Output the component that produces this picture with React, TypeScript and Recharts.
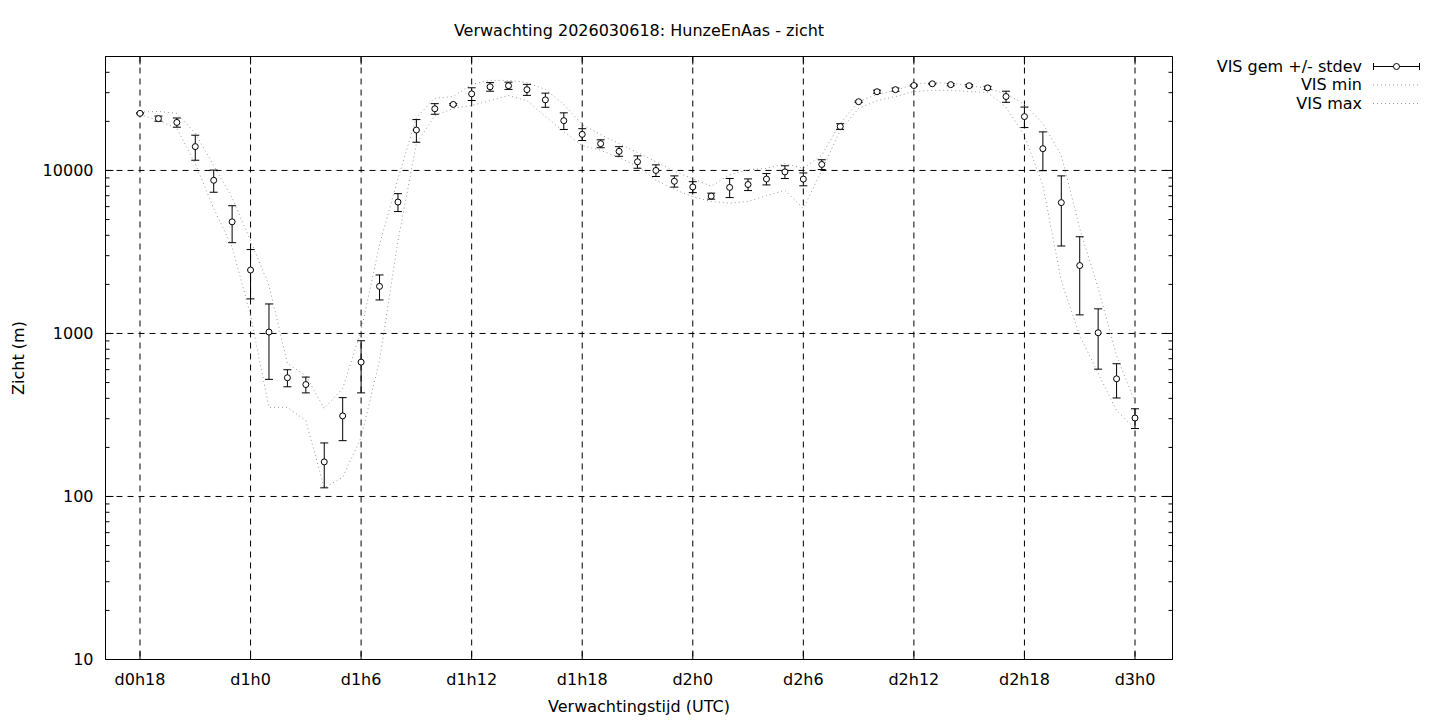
import React from "react";
import {
  CartesianGrid,
  ComposedChart,
  ErrorBar,
  Legend,
  Line,
  XAxis,
  YAxis,
} from "recharts";

// forecast hours (d0h18 .. d3h0)
const HOURS = [
  18, 19, 20, 21, 22, 23, 24, 25, 26, 27, 28, 29, 30, 31, 32, 33, 34, 35, 36,
  37, 38, 39, 40, 41, 42, 43, 44, 45, 46, 47, 48, 49, 50, 51, 52, 53, 54, 55,
  56, 57, 58, 59, 60, 61, 62, 63, 64, 65, 66, 67, 68, 69, 70, 71, 72,
];

// VIS gem (m)
const VIS_MEAN = [
  22400, 20800, 19700, 14000, 8700, 4840, 2450, 1020, 535, 486, 163, 312, 667,
  1945, 6400, 17700, 23900, 25400, 29500, 32600, 33100, 31300, 27100, 20200,
  16650, 14600, 13100, 11300, 10000, 8580, 7920, 6960, 7870, 8200, 8860, 9800,
  8850, 10880, 18600, 26400, 30400, 31300, 33200, 34000, 33600, 33100, 32100,
  28400, 21400, 13600, 6350, 2610, 1010, 527, 303,
];

// stdev (m)
const VIS_SD = [
  150, 750, 1280, 2450, 1350, 1235, 820, 497, 64, 54, 50, 92, 235, 340, 805,
  2810, 1785, 300, 2640, 1980, 1700, 2430, 2700, 2365, 1385, 820, 890, 985, 820,
  680, 610, 295, 1055, 675, 710, 880, 800, 750, 745, 300, 650, 700, 300, 200,
  500, 500, 700, 2220, 3075, 3635, 2910, 1310, 406, 125, 42,
];

const VIS_MIN = [
  22000, 20300, 18100, 11000, 5850, 3400, 1290, 352, 352, 292, 113, 131, 230,
  683, 3700, 14600, 21700, 24000, 25000, 26800, 28800, 26800, 21400, 17300,
  14200, 13300, 12000, 10600, 8700, 7650, 6900, 6450, 6300, 6450, 7000, 7550,
  5850, 10000, 17600, 24000, 26800, 28400, 30500, 31000, 31000, 30500, 30100,
  24400, 16400, 8100, 2100, 970, 570, 337, 261,
];

const VIS_MAX = [
  22800, 23000, 22400, 16900, 10700, 6800, 3700, 1970, 655, 550, 347, 460, 1040,
  3500, 8900, 21100, 27700, 28400, 33700, 35700, 35700, 34600, 31400, 25400,
  19100, 16600, 14600, 12900, 11300, 9900, 8900, 8000, 9400, 10100, 10300,
  11000, 10300, 12400, 19400, 26500, 29200, 31000, 33700, 34700, 34200, 33200,
  31800, 29600, 25400, 19400, 12400, 4400, 1900, 730, 380,
];

const X_TICKS = [18, 24, 30, 36, 42, 48, 54, 60, 66, 72];
const Y_DECADES = [10, 100, 1000, 10000];
const Y_MINOR = [
  20, 30, 40, 50, 60, 70, 80, 90, 200, 300, 400, 500, 600, 700, 800, 900, 2000,
  3000, 4000, 5000, 6000, 7000, 8000, 9000, 20000, 30000, 40000,
];

const X_DOMAIN = [16.128, 74.035];
const Y_DOMAIN = [10, 50000];

const FONT = "'DejaVu Sans', sans-serif";
const FONT_SIZE = 16;
const GRID_DASH = "6 5";
const DOT_DASH = "1 3";
const DOT_COLOR = "#999";

const data = HOURS.map((h, i) => ({
  h,
  mean: VIS_MEAN[i],
  sd: VIS_SD[i],
  min: VIS_MIN[i],
  max: VIS_MAX[i],
}));

const formatHour = (h: number) => `d${Math.floor(h / 24)}h${h % 24}`;

const LEFT_MARGIN = 12;
const BOTTOM_MARGIN = 14.5;

function LeftTick(props: any) {
  const { x, y, payload } = props;
  const major = Y_DECADES.includes(payload.value);
  const edge = x + LEFT_MARGIN;
  return (
    <g>
      <line x1={edge} x2={edge + (major ? 8 : 4)} y1={y} y2={y} stroke="#000" />
      {major && (
        <text
          x={x}
          y={y}
          dy="0.36em"
          textAnchor="end"
          fontFamily={FONT}
          fontSize={FONT_SIZE}
          fill="#000"
        >
          {payload.value}
        </text>
      )}
    </g>
  );
}

function RightTick(props: any) {
  const { x, y, payload } = props;
  const major = Y_DECADES.includes(payload.value);
  return <line x1={x} x2={x - (major ? 8 : 4)} y1={y} y2={y} stroke="#000" />;
}

function BottomTick(props: any) {
  const { x, y, payload } = props;
  const edge = y - BOTTOM_MARGIN;
  return (
    <g>
      <line x1={x} x2={x} y1={edge} y2={edge - 8} stroke="#000" />
      <text
        x={x}
        y={y}
        dy="0.71em"
        textAnchor="middle"
        fontFamily={FONT}
        fontSize={FONT_SIZE}
        fill="#000"
      >
        {formatHour(payload.value)}
      </text>
    </g>
  );
}

function TopTick(props: any) {
  const { x, y } = props;
  return <line x1={x} x2={x} y1={y} y2={y + 8} stroke="#000" />;
}

const renderTitle = (props: any) => {
  const { viewBox } = props;
  return (
    <text
      x={viewBox.x + viewBox.width / 2}
      y={35.5}
      textAnchor="middle"
      fontFamily={FONT}
      fontSize={FONT_SIZE}
      fill="#000"
    >
      Verwachting 2026030618: HunzeEnAas - zicht
    </text>
  );
};

const renderXLabel = (props: any) => {
  const { viewBox } = props;
  return (
    <text
      x={viewBox.x + viewBox.width / 2}
      y={viewBox.y + 52}
      textAnchor="middle"
      fontFamily={FONT}
      fontSize={FONT_SIZE}
      fill="#000"
    >
      Verwachtingstijd (UTC)
    </text>
  );
};

const renderYLabel = (props: any) => {
  const { viewBox } = props;
  const cx = 23.5;
  const cy = viewBox.y + viewBox.height / 2;
  return (
    <text
      x={cx}
      y={cy}
      transform={`rotate(-90, ${cx}, ${cy})`}
      textAnchor="middle"
      fontFamily={FONT}
      fontSize={FONT_SIZE}
      fill="#000"
    >
      Zicht (m)
    </text>
  );
};

const renderLegend = () => (
  <svg width={260} height={64} style={{ display: "block" }}>
    <g fontFamily={FONT} fontSize={FONT_SIZE} fill="#000" textAnchor="end">
      <text x={192} y={16.5}>VIS gem +/- stdev</text>
      <text x={192} y={35}>VIS min</text>
      <text x={192} y={53.5}>VIS max</text>
    </g>
    <line x1={203} x2={250} y1={11.5} y2={11.5} stroke="#000" />
    <line x1={203.5} x2={203.5} y1={8} y2={15} stroke="#000" />
    <line x1={249.5} x2={249.5} y1={8} y2={15} stroke="#000" />
    <circle cx={226.5} cy={11.5} r={3} fill="#fff" stroke="#000" />
    <line
      x1={203}
      x2={250}
      y1={30}
      y2={30}
      stroke={DOT_COLOR}
      strokeDasharray={DOT_DASH}
    />
    <line
      x1={203}
      x2={250}
      y1={48.5}
      y2={48.5}
      stroke={DOT_COLOR}
      strokeDasharray={DOT_DASH}
    />
  </svg>
);

export default function App() {
  return (
    <div style={{ position: "absolute", left: 0, top: 0, background: "#fff" }}>
      <ComposedChart
        width={1440}
        height={720}
        data={data}
        margin={{ top: 46.5, right: 257.5, bottom: 0, left: 0.5 }}
      >
        <CartesianGrid
          xAxisId="bottom"
          yAxisId="left"
          horizontalValues={Y_DECADES}
          stroke="#000"
          strokeDasharray={GRID_DASH}
        />
        <XAxis
          xAxisId="bottom"
          dataKey="h"
          type="number"
          domain={X_DOMAIN}
          allowDataOverflow
          ticks={X_TICKS}
          interval={0}
          tick={(p: any) => <BottomTick {...p} />}
          tickLine={false}
          tickSize={0}
          tickMargin={BOTTOM_MARGIN}
          height={60.5}
          stroke="#000"
          label={renderXLabel}
        />
        <XAxis
          xAxisId="top"
          orientation="top"
          dataKey="h"
          type="number"
          domain={X_DOMAIN}
          allowDataOverflow
          ticks={X_TICKS}
          interval={0}
          tick={(p: any) => <TopTick {...p} />}
          tickLine={false}
          tickSize={0}
          tickMargin={0}
          height={10}
          stroke="#000"
          label={renderTitle}
        />
        <YAxis
          yAxisId="left"
          type="number"
          scale="log"
          domain={Y_DOMAIN}
          allowDataOverflow
          ticks={[...Y_DECADES, ...Y_MINOR]}
          interval={0}
          tick={(p: any) => <LeftTick {...p} />}
          tickLine={false}
          tickSize={0}
          tickMargin={LEFT_MARGIN}
          width={105}
          stroke="#000"
          label={renderYLabel}
        />
        <YAxis
          yAxisId="right"
          orientation="right"
          type="number"
          scale="log"
          domain={Y_DOMAIN}
          allowDataOverflow
          ticks={[...Y_DECADES, ...Y_MINOR]}
          interval={0}
          tick={(p: any) => <RightTick {...p} />}
          tickLine={false}
          tickSize={0}
          tickMargin={0}
          width={10}
          stroke="#000"
        />
        <Line
          xAxisId="bottom"
          yAxisId="left"
          type="linear"
          dataKey="min"
          name="VIS min"
          stroke={DOT_COLOR}
          strokeWidth={1}
          strokeDasharray={DOT_DASH}
          dot={false}
          activeDot={false}
          isAnimationActive={false}
        />
        <Line
          xAxisId="bottom"
          yAxisId="left"
          type="linear"
          dataKey="max"
          name="VIS max"
          stroke={DOT_COLOR}
          strokeWidth={1}
          strokeDasharray={DOT_DASH}
          dot={false}
          activeDot={false}
          isAnimationActive={false}
        />
        <Line
          xAxisId="bottom"
          yAxisId="left"
          dataKey="mean"
          name="VIS gem +/- stdev"
          stroke="none"
          dot={{ r: 3, fill: "#fff", stroke: "#000", strokeWidth: 1 }}
          activeDot={false}
          isAnimationActive={false}
        >
          <ErrorBar
            dataKey="sd"
            direction="y"
            width={4}
            stroke="#000"
            strokeWidth={1}
            isAnimationActive={false}
          />
        </Line>
        <Legend
          layout="vertical"
          align="center"
          verticalAlign="middle"
          content={renderLegend}
          wrapperStyle={{ left: 1170, top: 55, width: 260, height: 64 }}
        />
      </ComposedChart>
    </div>
  );
}
